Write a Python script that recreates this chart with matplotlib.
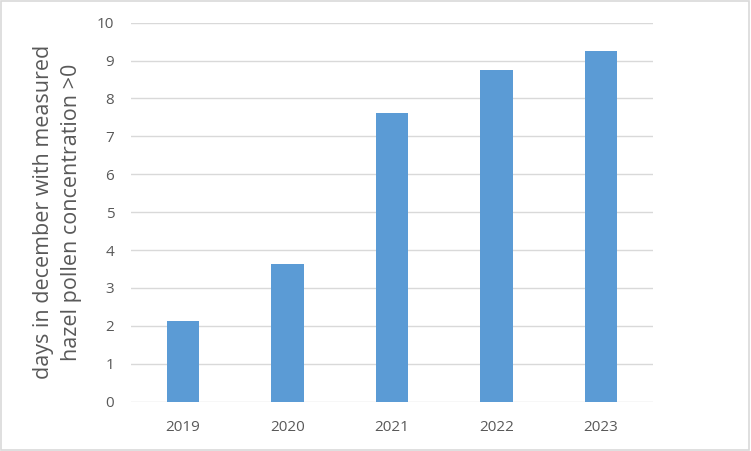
import matplotlib.pyplot as plt
from matplotlib.patches import Rectangle

years = ["2019", "2020", "2021", "2022", "2023"]
days = [2.12, 3.63, 7.63, 8.74, 9.25]

ylabel = "days in december with measured\nhazel pollen concentration >0"

plt.rcParams["font.family"] = ["Open Sans", "DejaVu Sans"]

fig = plt.figure(figsize=(7.51, 4.51), dpi=100)
ax = fig.add_axes([0.1744, 0.1093, 0.6951, 0.8404])

x = range(len(years))
ax.bar(x, days, width=0.31, color="#5B9BD5", zorder=3)

ax.set_xlim(-0.5, len(years) - 0.5)
ax.set_ylim(0, 10)
ax.set_yticks(range(0, 11))
ax.set_xticks(list(x))
ax.set_xticklabels(years)
ax.grid(axis="y", color="#D9D9D9", linewidth=1.0, zorder=0)
for s in ax.spines.values():
    s.set_visible(False)
ax.tick_params(axis="both", length=0, labelsize=11, labelcolor="#595959")
ax.tick_params(axis="y", pad=12)
ax.tick_params(axis="x", pad=13)

fig.text(0.077, 0.53, ylabel, rotation=90, ha="center", va="center",
         fontsize=15.5, color="#595959", linespacing=1.45)

# chart border
fig.patches.append(Rectangle((0.001, 0.002), 0.997, 0.996, transform=fig.transFigure,
                             fill=False, edgecolor="#D9D9D9", linewidth=1.2))

fig.savefig("out.png", dpi=100)
